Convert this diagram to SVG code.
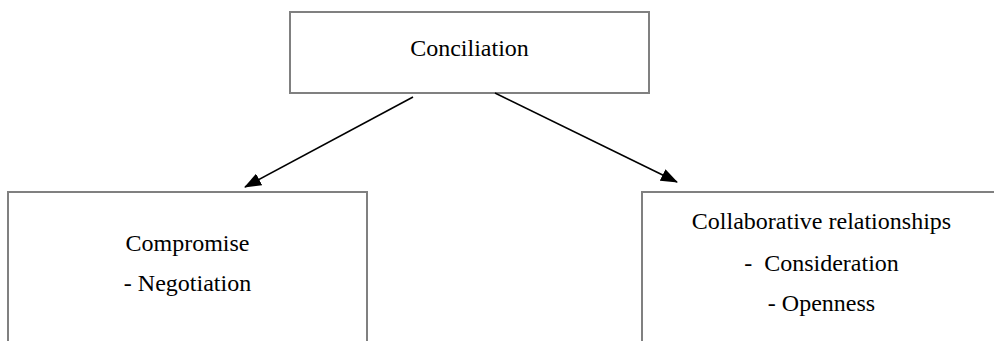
<svg xmlns="http://www.w3.org/2000/svg" width="994" height="341" viewBox="0 0 994 341">
<style>
.box{fill:#fff;stroke:#808080;stroke-width:2}
.t{font-family:"Liberation Serif","Times New Roman",serif;font-size:24px;fill:#000;text-anchor:middle}
.edge{stroke:#000;stroke-width:1.6;fill:none}
</style>
<defs>
<marker id="ah" markerUnits="userSpaceOnUse" markerWidth="17" markerHeight="13" refX="16" refY="6.5" orient="auto">
<path d="M0,0 L17,6.5 L0,13 z" fill="#000"/>
</marker>
</defs>
<rect width="994" height="341" fill="#fff"/>
<g id="conciliation">
<rect class="box" x="290" y="12" width="359" height="81"/>
<text class="t" x="469.5" y="56">Conciliation</text>
</g>
<g id="compromise">
<rect class="box" x="8" y="192" width="359" height="160"/>
<text class="t" x="187.5" y="251">Compromise</text>
<text class="t" x="187.5" y="291">- Negotiation</text>
</g>
<g id="collaborative">
<rect class="box" x="642" y="192" width="359" height="160"/>
<text class="t" x="821.5" y="229">Collaborative relationships</text>
<text class="t" x="821.5" y="271" xml:space="preserve">-  Consideration</text>
<text class="t" x="821.5" y="311">- Openness</text>
</g>
<g id="connectors">
<line class="edge" x1="413" y1="97" x2="245" y2="187" marker-end="url(#ah)"/>
<line class="edge" x1="495" y1="93" x2="677" y2="182" marker-end="url(#ah)"/>
</g>
</svg>
